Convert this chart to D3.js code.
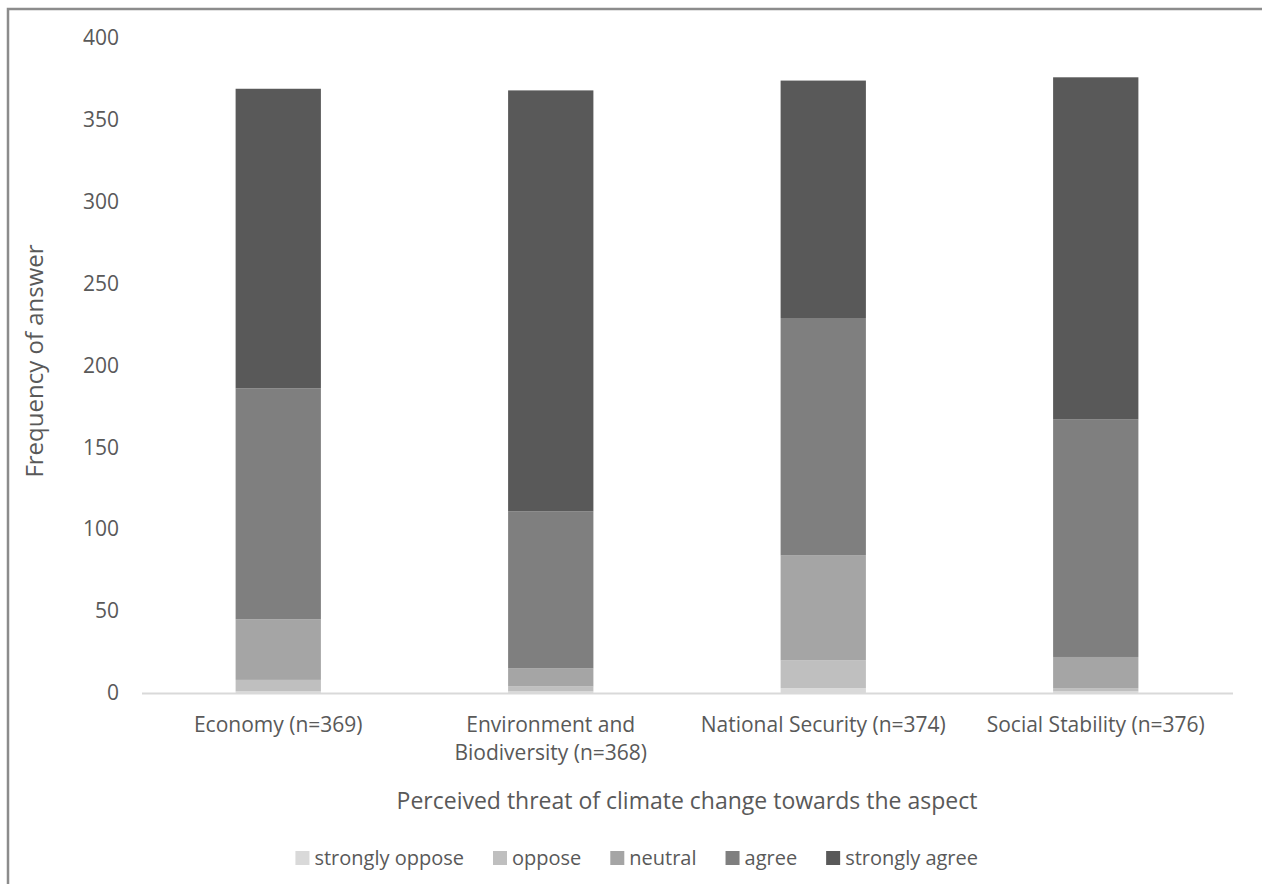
<!DOCTYPE html>
<html>
<head>
<meta charset="utf-8">
<script src="https://cdn.jsdelivr.net/npm/d3@7"></script>
<style>
  html, body { margin: 0; padding: 0; background: #ffffff; }
  svg { display: block; }
  text { font-family: "Open Sans", "Liberation Sans", sans-serif; fill: #595959; }
</style>
</head>
<body>
<svg id="chart" width="1262" height="884"></svg>
<script>
// Survey categories (multi-line labels split on "\n")
const categories = [
  "Economy (n=369)",
  "Environment and\nBiodiversity (n=368)",
  "National Security (n=374)",
  "Social Stability (n=376)"
];

// Answer levels, bottom to top of each stack
const levels = ["strongly oppose", "oppose", "neutral", "agree", "strongly agree"];
const levelColors = ["#d9d9d9", "#bfbfbf", "#a5a5a5", "#7f7f7f", "#595959"];

// Frequency of each answer per category
const stronglyOppose = [1, 1, 3, 1];
const oppose         = [7, 3, 17, 2];
const neutral        = [37, 11, 64, 19];
const agree          = [141, 96, 145, 145];
const stronglyAgree  = [183, 257, 145, 209];

const yTicks = [0, 50, 100, 150, 200, 250, 300, 350, 400];

const rows = categories.map((c, i) => ({
  category: c,
  "strongly oppose": stronglyOppose[i],
  "oppose": oppose[i],
  "neutral": neutral[i],
  "agree": agree[i],
  "strongly agree": stronglyAgree[i]
}));

const svg = d3.select("#chart");

// Outer chart frame
svg.append("rect")
  .attr("x", 8).attr("y", 9)
  .attr("width", 1300).attr("height", 940)
  .attr("fill", "none")
  .attr("stroke", "#8c8c8c")
  .attr("stroke-width", 2.5);

const plot = { left: 142, right: 1232, top: 38, bottom: 693 };

const x = d3.scaleBand()
  .domain(categories)
  .range([plot.left, plot.right])
  .padding(0);

const barWidth = x.bandwidth() * 0.313;

const y = d3.scaleLinear()
  .domain([0, 400])
  .range([plot.bottom, plot.top]);

const series = d3.stack().keys(levels)(rows);
const color = d3.scaleOrdinal().domain(levels).range(levelColors);

// Stacked bars
svg.append("g")
  .selectAll("g")
  .data(series)
  .join("g")
  .attr("fill", d => color(d.key))
  .selectAll("rect")
  .data(d => d)
  .join("rect")
  .attr("x", d => x(d.data.category) + x.bandwidth() / 2 - barWidth / 2)
  .attr("y", d => y(d[1]))
  .attr("width", barWidth)
  .attr("height", d => y(d[0]) - y(d[1]));

// Category axis baseline
svg.append("line")
  .attr("x1", plot.left).attr("x2", plot.right + 1)
  .attr("y1", y(0) + 0.5).attr("y2", y(0) + 0.5)
  .attr("stroke", "#d9d9d9")
  .attr("stroke-width", 2);

// Value axis (labels only)
const yAxis = d3.axisLeft(y).tickValues(yTicks).tickSize(0).tickPadding(0);
const yg = svg.append("g")
  .attr("transform", `translate(119,0)`)
  .call(yAxis);
yg.select(".domain").remove();
yg.selectAll("text")
  .attr("fill", "#595959")
  .style("font-size", "21px")
  .style("font-family", "\"Open Sans\", sans-serif");

// Category labels
const xAxis = d3.axisBottom(x).tickSize(0).tickFormat("");
const xg = svg.append("g")
  .attr("transform", `translate(0,${plot.bottom})`)
  .call(xAxis);
xg.select(".domain").remove();
xg.selectAll(".tick").each(function(d) {
  const lines = d.split("\n");
  const t = d3.select(this).append("text")
    .attr("text-anchor", "middle")
    .attr("fill", "#595959")
    .style("font-size", "21px");
  lines.forEach((ln, i) => {
    t.append("tspan")
      .attr("x", 0)
      .attr("y", 39 + i * 28)
      .text(ln);
  });
});

// Axis titles
svg.append("text")
  .attr("transform", `translate(43,361) rotate(-90)`)
  .attr("text-anchor", "middle")
  .style("font-size", "24px")
  .text("Frequency of answer");

svg.append("text")
  .attr("x", 687).attr("y", 809)
  .attr("text-anchor", "middle")
  .style("font-size", "23px")
  .text("Perceived threat of climate change towards the aspect");

// Legend: swatch, label, fixed gap; laid out from measured label widths
const legend = svg.append("g");
let lx = 0;
const items = [];
levels.forEach(k => {
  const item = legend.append("g").attr("transform", `translate(${lx},0)`);
  item.append("rect")
    .attr("x", 0).attr("y", -14)
    .attr("width", 14).attr("height", 14)
    .attr("fill", color(k));
  const t = item.append("text")
    .attr("x", 19).attr("y", 0)
    .style("font-size", "20px")
    .text(k);
  items.push(lx);
  lx += 19 + t.node().getComputedTextLength() + 29;
});
// place so the second swatch sits at x = 493
legend.attr("transform", `translate(${493 - items[1]},865)`);
</script>
</body>
</html>
